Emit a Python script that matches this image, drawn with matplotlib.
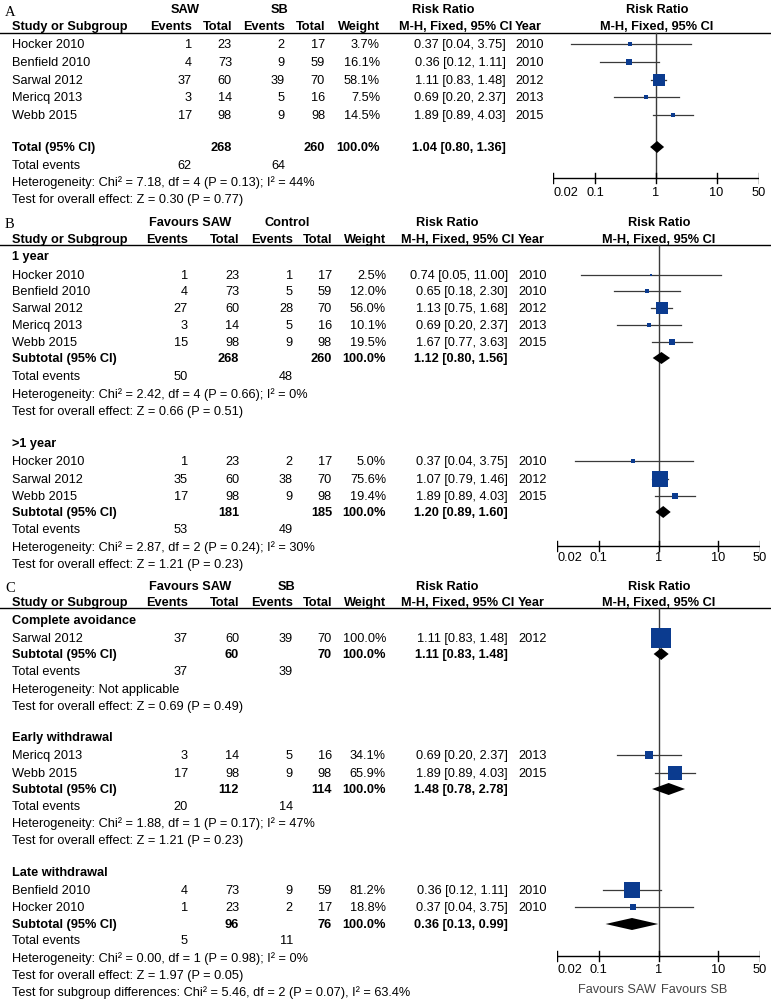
import matplotlib
matplotlib.use("Agg")
import matplotlib.pyplot as plt

plt.rcParams['font.family'] = ['Liberation Sans', 'DejaVu Sans']

W, H = 771, 1001
FS = 9.2
BLUE = '#0b3b8f'
LINE = '#3a3a3a'

# ---------------- panel A : SAW vs SB ----------------
a_names = ["Hocker 2010", "Benfield 2010", "Sarwal 2012", "Mericq 2013", "Webb 2015"]
a_ev1 = [1, 4, 37, 3, 17]
a_tot1 = [23, 73, 60, 14, 98]
a_ev2 = [2, 9, 39, 5, 9]
a_tot2 = [17, 59, 70, 16, 98]
a_wt = [3.7, 16.1, 58.1, 7.5, 14.5]
a_rr = [0.37, 0.36, 1.11, 0.69, 1.89]
a_lo = [0.04, 0.12, 0.83, 0.20, 0.89]
a_hi = [3.75, 1.11, 1.48, 2.37, 4.03]
a_yr = [2010, 2010, 2012, 2013, 2015]
a_total = [268, 260, 1.04, 0.80, 1.36]
a_events = [62, 64]
a_het = "Heterogeneity: Chi² = 7.18, df = 4 (P = 0.13); I² = 44%"
a_test = "Test for overall effect: Z = 0.30 (P = 0.77)"

# ---------------- panel B : 1 year ----------------
b1_names = ["Hocker 2010", "Benfield 2010", "Sarwal 2012", "Mericq 2013", "Webb 2015"]
b1_ev1 = [1, 4, 27, 3, 15]
b1_tot1 = [23, 73, 60, 14, 98]
b1_ev2 = [1, 5, 28, 5, 9]
b1_tot2 = [17, 59, 70, 16, 98]
b1_wt = [2.5, 12.0, 56.0, 10.1, 19.5]
b1_rr = [0.74, 0.65, 1.13, 0.69, 1.67]
b1_lo = [0.05, 0.18, 0.75, 0.20, 0.77]
b1_hi = [11.00, 2.30, 1.68, 2.37, 3.63]
b1_yr = [2010, 2010, 2012, 2013, 2015]
b1_total = [268, 260, 1.12, 0.80, 1.56]
b1_events = [50, 48]
b1_het = "Heterogeneity: Chi² = 2.42, df = 4 (P = 0.66); I² = 0%"
b1_test = "Test for overall effect: Z = 0.66 (P = 0.51)"

# ---------------- panel B : >1 year ----------------
b2_names = ["Hocker 2010", "Sarwal 2012", "Webb 2015"]
b2_ev1 = [1, 35, 17]
b2_tot1 = [23, 60, 98]
b2_ev2 = [2, 38, 9]
b2_tot2 = [17, 70, 98]
b2_wt = [5.0, 75.6, 19.4]
b2_rr = [0.37, 1.07, 1.89]
b2_lo = [0.04, 0.79, 0.89]
b2_hi = [3.75, 1.46, 4.03]
b2_yr = [2010, 2012, 2015]
b2_total = [181, 185, 1.20, 0.89, 1.60]
b2_events = [53, 49]
b2_het = "Heterogeneity: Chi² = 2.87, df = 2 (P = 0.24); I² = 30%"
b2_test = "Test for overall effect: Z = 1.21 (P = 0.23)"

# ---------------- panel C : complete avoidance ----------------
c1_names = ["Sarwal 2012"]
c1_ev1 = [37]
c1_tot1 = [60]
c1_ev2 = [39]
c1_tot2 = [70]
c1_wt = [100.0]
c1_rr = [1.11]
c1_lo = [0.83]
c1_hi = [1.48]
c1_yr = [2012]
c1_total = [60, 70, 1.11, 0.83, 1.48]
c1_events = [37, 39]
c1_het = "Heterogeneity: Not applicable"
c1_test = "Test for overall effect: Z = 0.69 (P = 0.49)"

# ---------------- panel C : early withdrawal ----------------
c2_names = ["Mericq 2013", "Webb 2015"]
c2_ev1 = [3, 17]
c2_tot1 = [14, 98]
c2_ev2 = [5, 9]
c2_tot2 = [16, 98]
c2_wt = [34.1, 65.9]
c2_rr = [0.69, 1.89]
c2_lo = [0.20, 0.89]
c2_hi = [2.37, 4.03]
c2_yr = [2013, 2015]
c2_total = [112, 114, 1.48, 0.78, 2.78]
c2_events = [20, 14]
c2_het = "Heterogeneity: Chi² = 1.88, df = 1 (P = 0.17); I² = 47%"
c2_test = "Test for overall effect: Z = 1.21 (P = 0.23)"

# ---------------- panel C : late withdrawal ----------------
c3_names = ["Benfield 2010", "Hocker 2010"]
c3_ev1 = [4, 1]
c3_tot1 = [73, 23]
c3_ev2 = [9, 2]
c3_tot2 = [59, 17]
c3_wt = [81.2, 18.8]
c3_rr = [0.36, 0.37]
c3_lo = [0.12, 0.04]
c3_hi = [1.11, 3.75]
c3_yr = [2010, 2010]
c3_total = [96, 76, 0.36, 0.13, 0.99]
c3_events = [5, 11]
c3_het = "Heterogeneity: Chi² = 0.00, df = 1 (P = 0.98); I² = 0%"
c3_test = "Test for overall effect: Z = 1.97 (P = 0.05)"
c_subgroup = "Test for subgroup differences: Chi² = 5.46, df = 2 (P = 0.07), I² = 63.4%"

ticks = [0.02, 0.1, 1, 10, 50]
tick_labels = ["0.02", "0.1", "1", "10", "50"]

fig = plt.figure(figsize=(W / 100, H / 100), dpi=100)
tx = fig.add_axes([0, 0, 1, 1])
tx.set_xlim(0, W)
tx.set_ylim(H, 0)
tx.axis('off')


def t(x, y, s, ha='left', bold=False, **kw):
    tx.text(x, y, s, ha=ha, va='center', fontsize=FS,
            fontweight='bold' if bold else 'normal', **kw)


colA = dict(ev1=192, tot1=232, ev2=285, tot2=325, w=380, ci=506, yr=515,
            g1=185, g2=280, rr=443, rr2=657, mh=512)
colB = dict(ev1=188, tot1=239, ev2=293, tot2=332, w=386, ci=508, yr=518,
            g1=190, g2=287, rr=447, rr2=659, mh=514)


def forest_ax(x0, x1, ytop, ybot):
    ax = fig.add_axes([x0 / W, 1 - ybot / H, (x1 - x0) / W, (ybot - ytop) / H])
    ax.set_xscale('log')
    ax.set_xlim(0.02, 50)
    ax.set_ylim(ybot, ytop)
    ax.axis('off')
    return ax


def header(col, y1, y2, yline, letter, g1, g2):
    tx.text(5, y1 + 2, letter, family='Liberation Serif', fontsize=10.5, va='center')
    t(col['g1'], y1, g1, 'center', True)
    t(col['g2'], y1, g2, 'center', True)
    t(col['rr'], y1, "Risk Ratio", 'center', True)
    t(col['rr2'], y1, "Risk Ratio", 'center', True)
    t(12, y2, "Study or Subgroup", bold=True)
    t(col['ev1'], y2, "Events", 'right', True)
    t(col['tot1'], y2, "Total", 'right', True)
    t(col['ev2'], y2, "Events", 'right', True)
    t(col['tot2'], y2, "Total", 'right', True)
    t(col['w'], y2, "Weight", 'right', True)
    t(col['mh'], y2, "M-H, Fixed, 95% CI", 'right', True)
    t(col['yr'], y2, "Year", bold=True)
    t(col['rr2'], y2, "M-H, Fixed, 95% CI", 'center', True)
    tx.plot([0, W], [yline, yline], color='black', lw=1)


def studies(ax, col, ys, names, ev1, tot1, ev2, tot2, wt, rr, lo, hi, yr):
    for i, y in enumerate(ys):
        t(12, y, names[i])
        t(col['ev1'], y, str(ev1[i]), 'right')
        t(col['tot1'], y, str(tot1[i]), 'right')
        t(col['ev2'], y, str(ev2[i]), 'right')
        t(col['tot2'], y, str(tot2[i]), 'right')
        t(col['w'], y, f"{wt[i]:.1f}%", 'right')
        t(col['ci'], y, f"{rr[i]:.2f} [{lo[i]:.2f}, {hi[i]:.2f}]", 'right')
        t(col['yr'], y, str(yr[i]))
        ax.plot([lo[i], hi[i]], [y - 1, y - 1], color=LINE, lw=0.9, zorder=2)
        side = (2.5 + 0.17 * wt[i]) * 0.72
        ax.plot([rr[i]], [y - 1], marker='s', ms=side, color=BLUE, mec=BLUE,
                mew=0, ls='none', zorder=3)


def total(ax, col, y, label, tot):
    n1, n2, rr, lo, hi = tot
    t(12, y, label, bold=True)
    t(col['tot1'], y, str(n1), 'right', True)
    t(col['tot2'], y, str(n2), 'right', True)
    t(col['w'], y, "100.0%", 'right', True)
    t(col['ci'], y, f"{rr:.2f} [{lo:.2f}, {hi:.2f}]", 'right', True)
    ax.fill([lo, rr, hi, rr], [y - 1, y - 7, y - 1, y + 5], color='black', lw=0, zorder=3)


def summary(col, ys, events, het, test):
    t(12, ys[0], "Total events")
    t(col['ev1'], ys[0], str(events[0]), 'right')
    t(col['ev2'], ys[0], str(events[1]), 'right')
    t(12, ys[1], het)
    t(12, ys[2], test)


def scale(ax, yline, yaxis, ylab):
    ax.plot([1, 1], [yline, yaxis], color=LINE, lw=1, zorder=1)
    ax.plot([0.02, 50], [yaxis, yaxis], color='black', lw=1)
    for tk, lb in zip(ticks, tick_labels):
        ax.plot([tk, tk], [yaxis - 5, yaxis + 5], color='black', lw=1)
        ax.text(tk, ylab, lb, ha='left' if tk == 0.02 else 'center', va='center',
                fontsize=FS)


# ---- panel A
axA = forest_ax(553, 759, 0, 205)
header(colA, 10, 27, 33, "A", "SAW", "SB")
studies(axA, colA, [45, 63, 81, 98, 116], a_names, a_ev1, a_tot1, a_ev2, a_tot2,
        a_wt, a_rr, a_lo, a_hi, a_yr)
total(axA, colA, 148, "Total (95% CI)", a_total)
summary(colA, [166, 183, 200], a_events, a_het, a_test)
scale(axA, 33, 178, 193)

# ---- panel B
axB = forest_ax(557, 760, 210, 575)
header(colB, 223, 240, 245, "B", "Favours SAW", "Control")
t(12, 257, "1 year", bold=True)
studies(axB, colB, [276, 292, 309, 326, 343], b1_names, b1_ev1, b1_tot1, b1_ev2,
        b1_tot2, b1_wt, b1_rr, b1_lo, b1_hi, b1_yr)
total(axB, colB, 359, "Subtotal (95% CI)", b1_total)
summary(colB, [377, 395, 412], b1_events, b1_het, b1_test)
t(12, 444, ">1 year", bold=True)
studies(axB, colB, [462, 480, 497], b2_names, b2_ev1, b2_tot1, b2_ev2, b2_tot2,
        b2_wt, b2_rr, b2_lo, b2_hi, b2_yr)
total(axB, colB, 513, "Subtotal (95% CI)", b2_total)
summary(colB, [530, 548, 565], b2_events, b2_het, b2_test)
scale(axB, 245, 546, 558)

# ---- panel C
axC = forest_ax(557, 760, 575, 1001)
header(colB, 587, 603, 608, "C", "Favours SAW", "SB")
t(12, 621, "Complete avoidance", bold=True)
studies(axC, colB, [639], c1_names, c1_ev1, c1_tot1, c1_ev2, c1_tot2,
        c1_wt, c1_rr, c1_lo, c1_hi, c1_yr)
total(axC, colB, 655, "Subtotal (95% CI)", c1_total)
summary(colB, [672, 690, 707], c1_events, c1_het, c1_test)
t(12, 738, "Early withdrawal", bold=True)
studies(axC, colB, [756, 774], c2_names, c2_ev1, c2_tot1, c2_ev2, c2_tot2,
        c2_wt, c2_rr, c2_lo, c2_hi, c2_yr)
total(axC, colB, 790, "Subtotal (95% CI)", c2_total)
summary(colB, [807, 824, 841], c2_events, c2_het, c2_test)
t(12, 873, "Late withdrawal", bold=True)
studies(axC, colB, [891, 908], c3_names, c3_ev1, c3_tot1, c3_ev2, c3_tot2,
        c3_wt, c3_rr, c3_lo, c3_hi, c3_yr)
total(axC, colB, 925, "Subtotal (95% CI)", c3_total)
summary(colB, [941, 959, 976], c3_events, c3_het, c3_test)
t(12, 993, c_subgroup)
scale(axC, 608, 956, 970)
axC.text(0.9, 990, "Favours SAW", ha='right', va='center', fontsize=FS, color='#444444')
axC.text(1.12, 990, "Favours SB", ha='left', va='center', fontsize=FS, color='#444444')

fig.savefig("out.png", dpi=100)
